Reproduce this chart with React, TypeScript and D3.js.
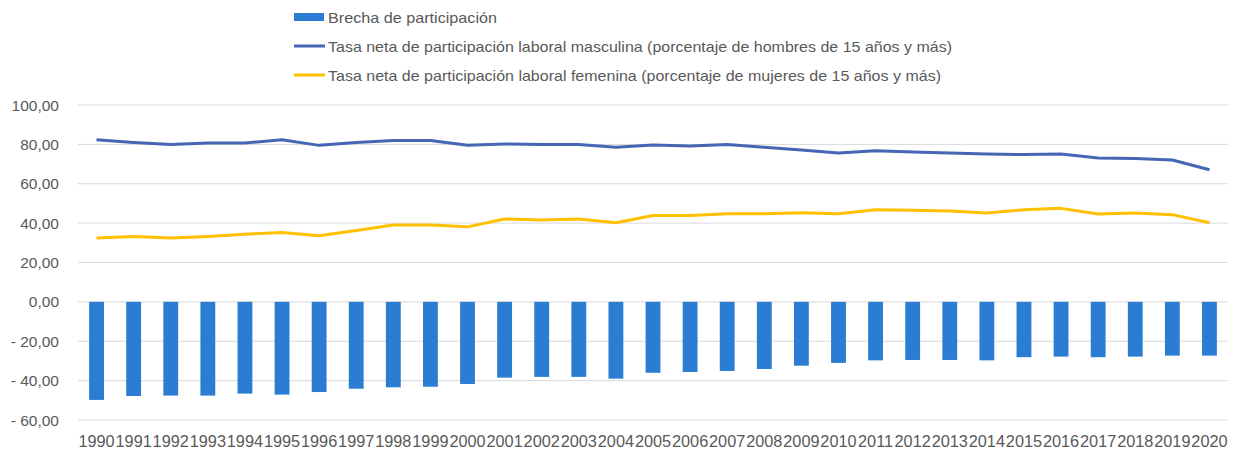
import React from "react";
import { scaleBand, scaleLinear, line } from "d3";

const years = [
  "1990", "1991", "1992", "1993", "1994", "1995", "1996", "1997", "1998", "1999",
  "2000", "2001", "2002", "2003", "2004", "2005", "2006", "2007", "2008", "2009",
  "2010", "2011", "2012", "2013", "2014", "2015", "2016", "2017", "2018", "2019", "2020"
];

const brecha = [
  -49.8, -47.8, -47.6, -47.6, -46.6, -47.1, -45.8, -44.1, -43.4, -43.1,
  -41.7, -38.5, -38.1, -38.1, -39.0, -36.0, -35.6, -35.1, -34.1, -32.4,
  -31.0, -29.7, -29.5, -29.5, -29.7, -28.1, -27.8, -28.1, -27.8, -27.3, -27.3
];

const masculina = [
  82.4, 81.0, 79.9, 80.7, 80.7, 82.4, 79.5, 81.0, 82.0, 82.0,
  79.5, 80.2, 79.9, 79.9, 78.5, 79.7, 79.2, 79.9, 78.5, 77.2,
  75.6, 76.8, 76.1, 75.6, 75.1, 74.8, 75.1, 73.1, 72.8, 72.1, 67.1
];

const femenina = [
  32.4, 33.2, 32.4, 33.2, 34.4, 35.2, 33.6, 36.3, 39.0, 39.1,
  38.1, 42.1, 41.6, 42.1, 40.2, 43.9, 43.9, 44.8, 44.8, 45.3,
  44.8, 46.8, 46.5, 46.1, 45.1, 46.8, 47.5, 44.6, 45.1, 44.3, 40.2
];

const yTicks = [100, 80, 60, 40, 20, 0, -20, -40, -60];

const legendItems = [
  { label: "Brecha de participación", color: "#2B7CD3", kind: "bar", len: 169 },
  { label: "Tasa neta de participación laboral masculina (porcentaje de hombres de 15 años y más)", color: "#4466B4", kind: "line", len: 624 },
  { label: "Tasa neta de participación laboral femenina (porcentaje de mujeres de 15 años y más)", color: "#FFC000", kind: "line", len: 613 }
];

const fmt = (v: number) => {
  const s = Math.abs(v).toFixed(2).replace(".", ",");
  return v < 0 ? "- " + s : s;
};

export default function App() {
  const width = 1233, height = 453;
  const left = 78, right = 1228, top = 105, bottom = 420;
  const font = "'Liberation Sans', Arial, sans-serif";

  const x = scaleBand().domain(years).range([left, right]).paddingInner(0.6).paddingOuter(0.3);
  const y = scaleLinear().domain([-60, 100]).range([bottom, top]);
  const cx = (i: number) => (x(years[i]) as number) + x.bandwidth() / 2;

  const lineGen = line<number>().x((_, i) => cx(i)).y(d => y(d));

  return (
    <svg width={width} height={height} style={{ position: "absolute", left: 0, top: 0, background: "#fff" }}>
      {yTicks.map(t => (
        <g key={t}>
          <line x1={left} x2={right} y1={y(t)} y2={y(t)} stroke="#d9d9d9" strokeWidth={1} />
          <text x={59} y={y(t) + 5.5} textAnchor="end" fontFamily={font} fontSize={15.5} fill="#595959">
            {fmt(t)}
          </text>
        </g>
      ))}
      {brecha.map((v, i) => (
        <rect key={years[i]} x={x(years[i])} width={x.bandwidth()} y={y(0)} height={y(v) - y(0)} fill="#2B7CD3" />
      ))}
      <path d={lineGen(masculina) || ""} fill="none" stroke="#4466B4" strokeWidth={3} strokeLinejoin="round" />
      <path d={lineGen(femenina) || ""} fill="none" stroke="#FFC000" strokeWidth={3} strokeLinejoin="round" />
      {years.map((yr, i) => (
        <text key={yr} x={cx(i)} y={446.5} textAnchor="middle" fontFamily={font} fontSize={16.3} fill="#595959">
          {yr}
        </text>
      ))}
      {legendItems.map((it, i) => {
        const ly = 17 + i * 29;
        return (
          <g key={it.label}>
            {it.kind === "bar" ? (
              <rect x={294} y={ly - 4} width={30} height={8} fill={it.color} />
            ) : (
              <line x1={294} x2={325} y1={ly} y2={ly} stroke={it.color} strokeWidth={3} />
            )}
            <text x={328} y={ly + 5.5} fontFamily={font} fontSize={14.5} fill="#595959"
              textLength={it.len} lengthAdjust="spacingAndGlyphs">
              {it.label}
            </text>
          </g>
        );
      })}
    </svg>
  );
}
